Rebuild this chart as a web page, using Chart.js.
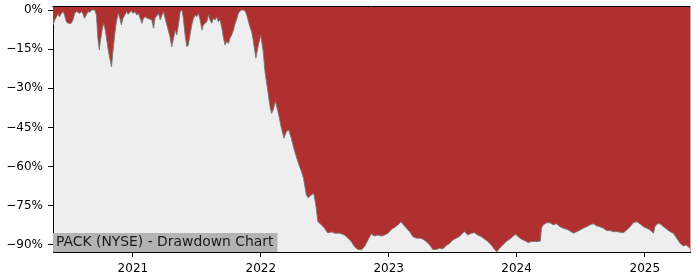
<!DOCTYPE html>
<html>
<head>
<meta charset="utf-8">
<script src="https://cdn.jsdelivr.net/npm/chart.js@4.4.1/dist/chart.umd.min.js"></script>
<style>
  html, body { margin: 0; padding: 0; background: #ffffff; }
  #wrap { width: 700px; height: 280px; position: relative; }
</style>
</head>
<body>
<div id="wrap"><canvas id="chartOne" width="700" height="280"></canvas></div>
<script>
// PACK (NYSE) drawdown
var dates = [
  '2020-05-18','2020-05-23','2020-05-27','2020-06-01','2020-06-06','2020-06-11','2020-06-16','2020-06-20',
  '2020-06-25','2020-06-30','2020-07-09','2020-07-14','2020-07-19','2020-07-24','2020-07-28','2020-08-02',
  '2020-08-07','2020-08-12','2020-08-16','2020-08-21','2020-08-26','2020-08-31','2020-09-05','2020-09-14',
  '2020-09-19','2020-09-23','2020-09-27','2020-09-30','2020-10-06','2020-10-10','2020-10-15','2020-10-22',
  '2020-10-27','2020-11-01','2020-11-05','2020-11-10','2020-11-15','2020-11-20','2020-11-25','2020-11-29',
  '2020-12-04','2020-12-09','2020-12-14','2020-12-18','2020-12-23','2020-12-28','2021-01-02','2021-01-07',
  '2021-01-12','2021-01-17','2021-01-27','2021-01-31','2021-02-05','2021-02-10','2021-02-24','2021-03-01',
  '2021-03-05','2021-03-15','2021-03-20','2021-03-25','2021-03-29','2021-04-03','2021-04-08','2021-04-13',
  '2021-04-17','2021-04-22','2021-04-27','2021-05-02','2021-05-06','2021-05-11','2021-05-16','2021-05-21',
  '2021-05-25','2021-05-30','2021-06-04','2021-06-08','2021-06-13','2021-06-18','2021-06-23','2021-06-28',
  '2021-07-02','2021-07-07','2021-07-12','2021-07-17','2021-07-21','2021-07-26','2021-07-31','2021-08-05',
  '2021-08-09','2021-08-14','2021-08-19','2021-08-24','2021-08-28','2021-09-02','2021-09-07','2021-09-12',
  '2021-09-16','2021-09-21','2021-09-26','2021-10-01','2021-10-05','2021-10-10','2021-10-15','2021-10-20',
  '2021-10-25','2021-10-29','2021-11-03','2021-11-08','2021-11-12','2021-11-17','2021-11-22','2021-11-27',
  '2021-12-01','2021-12-06','2021-12-11','2021-12-18','2021-12-25','2022-01-01','2022-01-08','2022-01-13',
  '2022-01-20','2022-01-28','2022-02-01','2022-02-05','2022-02-12','2022-02-19','2022-03-01','2022-03-08',
  '2022-03-15','2022-03-22','2022-03-29','2022-04-08','2022-04-17','2022-04-27','2022-05-03','2022-05-11',
  '2022-05-16','2022-05-25','2022-06-01','2022-06-07','2022-06-13','2022-06-23','2022-07-02','2022-07-11',
  '2022-07-22','2022-07-31','2022-08-14','2022-08-28','2022-09-07','2022-09-16','2022-09-26','2022-10-05',
  '2022-10-15','2022-10-24','2022-11-03','2022-11-12','2022-11-22','2022-12-01','2022-12-11','2022-12-20',
  '2022-12-30','2023-01-09','2023-01-19','2023-01-28','2023-02-05','2023-02-12','2023-02-21','2023-03-02',
  '2023-03-11','2023-03-21','2023-03-30','2023-04-09','2023-04-18','2023-04-28','2023-05-07','2023-05-17',
  '2023-05-26','2023-06-05','2023-06-14','2023-06-24','2023-07-03','2023-07-13','2023-07-22','2023-08-01',
  '2023-08-05','2023-08-15','2023-08-25','2023-09-03','2023-09-12','2023-09-22','2023-10-02','2023-10-11',
  '2023-10-21','2023-10-30','2023-11-06','2023-11-13','2023-11-23','2023-12-02','2023-12-12','2023-12-21',
  '2023-12-29','2024-01-05','2024-01-15','2024-01-25','2024-02-03','2024-02-13','2024-02-22','2024-03-03',
  '2024-03-09','2024-03-12','2024-03-17','2024-03-27','2024-04-05','2024-04-15','2024-04-24','2024-05-04',
  '2024-05-13','2024-05-23','2024-06-01','2024-06-11','2024-06-21','2024-06-30','2024-07-09','2024-07-19',
  '2024-07-29','2024-08-07','2024-08-17','2024-08-26','2024-09-05','2024-09-14','2024-09-24','2024-10-03',
  '2024-10-13','2024-10-22','2024-11-01','2024-11-10','2024-11-20','2024-11-29','2024-12-09','2024-12-18',
  '2024-12-28','2025-01-07','2025-01-16','2025-01-26','2025-01-30','2025-02-06','2025-02-14','2025-02-23',
  '2025-03-05','2025-03-14','2025-03-23','2025-04-02','2025-04-12','2025-04-21','2025-04-29','2025-05-05',
  '2025-05-10'
];
var drawdown = [
  -5.7,-3.8,-2.9,-1.6,-2.6,-1.3,-0.6,-1.9,
  -4.5,-5.1,-5.1,-3.8,-1.3,-0.6,-0.9,-1.3,
  -0.6,-1.6,-3.2,-1.9,-0.6,-0.9,0,0,
  -1.9,-10.7,-15.3,-12.1,-7.0,-5.1,-8.3,-14.7,
  -18.5,-21.7,-16.0,-9.6,-4.5,-1.3,-3.2,-5.7,
  -3.2,-1.9,-0.6,-1.6,-1.0,-0.4,-1.3,-0.6,
  -1.9,-1.3,-5.1,-3.2,-2.6,-3.1,-3.8,-7.0,
  -3.2,-1.3,-3.8,-1.9,-0.6,-3.2,-5.7,-8.3,
  -10.2,-14.1,-10.8,-7.7,-9.6,-5.7,-0.6,0,
  -3.2,-9.6,-14.1,-13.4,-9.6,-5.7,-3.2,-1.9,
  -2.6,-1.3,-3.8,-7.7,-5.7,-5.1,-4.5,-1.9,
  -3.8,-5.1,-3.2,-3.8,-2.6,-4.5,-3.8,-7.0,
  -10.2,-13.4,-12.1,-12.8,-10.8,-9.6,-7.7,-5.1,
  -3.2,-1.3,-0.4,0,0,-0.4,-1.9,-4.5,
  -6.4,-8.3,-12.1,-18.5,-13.4,-9.8,-16.0,-23.6,
  -30.0,-37.6,-39.6,-38.3,-35.1,-38.9,-45.3,-49.1,
  -46.6,-46.0,-49.1,-54.3,-58.1,-61.9,-64.5,-70.9,
  -71.9,-70.9,-70.2,-74.7,-81.1,-82.3,-83.6,-85.4,
  -85.0,-85.5,-85.5,-86.2,-87.4,-88.7,-90.7,-91.7,
  -91.9,-90.7,-88.1,-85.8,-86.6,-86.2,-86.6,-86.2,
  -85.5,-84.0,-83.2,-82.3,-81.1,-82.3,-83.6,-84.9,
  -86.8,-87.4,-87.4,-87.8,-88.7,-90.0,-91.7,-91.7,
  -91.3,-91.5,-90.2,-89.4,-88.1,-87.4,-86.8,-85.3,
  -84.9,-86.2,-85.5,-85.3,-86.2,-86.8,-87.8,-88.7,
  -90.0,-91.7,-92.6,-91.3,-90.0,-88.7,-87.8,-86.8,
  -85.9,-86.8,-87.8,-88.4,-89.1,-88.7,-88.7,-88.7,
  -88.5,-83.6,-82.3,-81.5,-81.5,-82.3,-81.9,-83.0,
  -83.6,-84.0,-84.6,-85.5,-84.9,-84.3,-83.6,-83.0,
  -82.3,-81.9,-82.7,-83.0,-83.6,-84.5,-84.5,-84.9,
  -84.9,-85.1,-85.3,-84.3,-83.0,-81.5,-81.1,-81.9,
  -83.0,-83.6,-84.3,-85.5,-83.0,-81.9,-81.9,-83.0,
  -84.0,-84.9,-85.5,-87.4,-89.4,-90.4,-90.0,-90.7,
  -91.3
];
var yearTicks = [2021, 2022, 2023, 2024, 2025];
var pctTicks = [0, -15, -30, -45, -60, -75, -90];
var chartLabel = 'PACK (NYSE) - Drawdown Chart';

var points = dates.map((d, i) => ({ x: Date.parse(d + 'T00:00:00Z'), y: drawdown[i] }));
var fontFamily = "'DejaVu Sans', sans-serif";

// grey plot background
const plotBg = {
    id: 'plotBg',
    beforeDraw(chart) {
        const a = chart.chartArea, ctx = chart.ctx;
        ctx.save();
        ctx.fillStyle = '#eeeeee';
        ctx.fillRect(a.left, a.top, a.right - a.left, a.bottom - a.top);
        ctx.restore();
    }
};

// spines and the label box in the lower left corner
const frame = {
    id: 'frame',
    afterDraw(chart) {
        const a = chart.chartArea, ctx = chart.ctx;
        ctx.save();
        ctx.strokeStyle = '#000000';
        ctx.lineWidth = 1;
        ctx.beginPath();
        ctx.moveTo(a.left - 0.5, a.top - 0.5);
        ctx.lineTo(a.right + 0.5, a.top - 0.5);
        ctx.stroke();
        ctx.strokeStyle = '#d8a0a0';
        ctx.beginPath();
        ctx.moveTo(a.right + 0.5, a.top);
        ctx.lineTo(a.right + 0.5, a.bottom);
        ctx.stroke();

        ctx.font = '13.9px ' + fontFamily;
        const w = ctx.measureText(chartLabel).width;
        ctx.fillStyle = '#b3b3b3';
        ctx.fillRect(a.left, a.bottom - 19, w + 7, 19);
        ctx.fillStyle = '#1a1a1a';
        ctx.textBaseline = 'middle';
        ctx.fillText(chartLabel, a.left + 3, a.bottom - 9.5);
        ctx.restore();
    }
};

var chartOne = document.getElementById('chartOne');
var myChart = new Chart(chartOne, {
    type: 'line',
    data: {
        datasets: [{
            data: points,
            borderColor: 'rgba(120, 120, 120, 0.9)',
            borderWidth: 1,
            backgroundColor: '#b03030',
            fill: 'end',
            pointRadius: 0,
            tension: 0
        }]
    },
    options: {
        responsive: false,
        animation: false,
        events: [],
        layout: { padding: { top: 1, right: 10, left: 0, bottom: 0 } },
        plugins: { legend: { display: false }, tooltip: { enabled: false } },
        scales: {
            x: {
                type: 'linear',
                min: points[0].x,
                max: points[points.length - 1].x,
                afterFit: (s) => { s.height = 28; },
                afterBuildTicks: (s) => { s.ticks = yearTicks.map(y => ({ value: Date.UTC(y, 0, 1) })); },
                ticks: {
                    color: '#000000',
                    font: { family: fontFamily, size: 12 },
                    padding: 5,
                    maxRotation: 0,
                    autoSkip: false,
                    callback: (v) => new Date(v).getUTCFullYear()
                },
                grid: { display: true, drawOnChartArea: false, tickLength: 5, color: '#000000' },
                border: { display: true, color: '#000000', width: 1 }
            },
            y: {
                min: -92.7,
                max: 1.15,
                afterFit: (s) => { s.width = 53; s.paddingTop = 7; },
                afterBuildTicks: (s) => { s.ticks = pctTicks.map(v => ({ value: v })); },
                ticks: {
                    color: '#000000',
                    font: { family: fontFamily, size: 12 },
                    padding: 5,
                    autoSkip: false,
                    callback: (v) => (v < 0 ? '\u2212' + Math.abs(v) : v) + '%'
                },
                grid: { display: true, drawOnChartArea: false, tickLength: 5, color: '#000000' },
                border: { display: true, color: '#000000', width: 1 }
            }
        }
    },
    plugins: [plotBg, frame]
});
</script>
</body>
</html>
